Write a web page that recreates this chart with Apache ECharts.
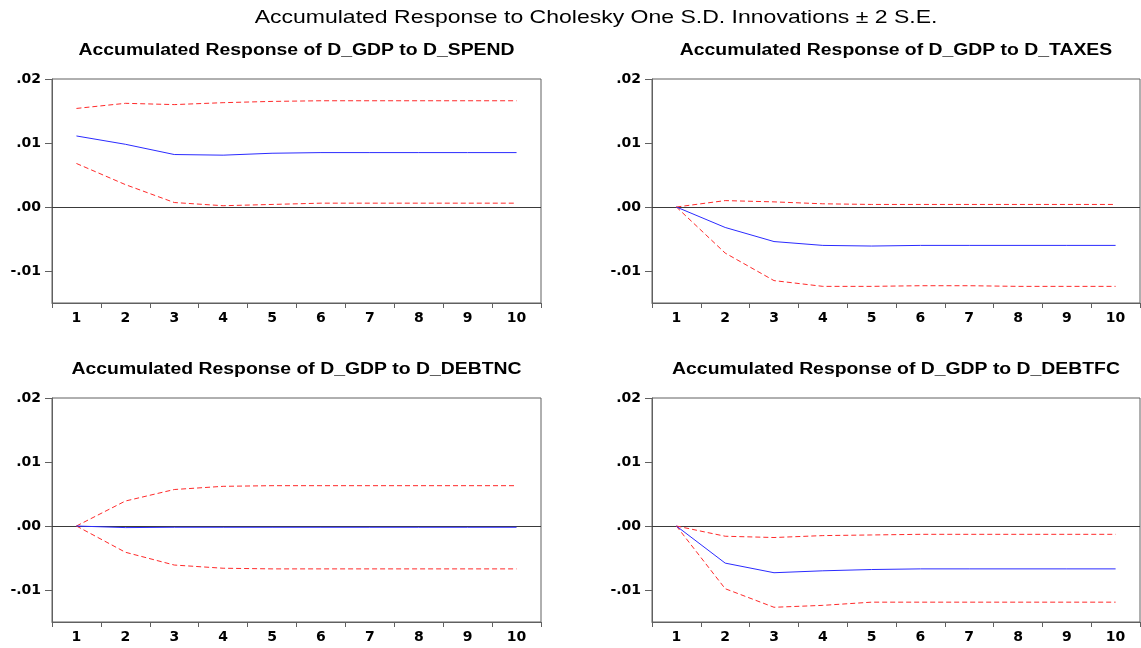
<!DOCTYPE html>
<html>
<head>
<meta charset="utf-8">
<script src="https://cdn.jsdelivr.net/npm/echarts@6/dist/echarts.min.js"></script>
<style>
html,body{margin:0;padding:0;background:#fff;}
#chart{width:1141px;height:648px;}
</style>
</head>
<body>
<div id="chart"></div>
<script>
// ---- data ----
const periods = ['1','2','3','4','5','6','7','8','9','10'];
const yTickValues = [-0.01, 0, 0.01, 0.02];

const mainTitle = 'Accumulated Response to Cholesky One S.D. Innovations \u00B1 2 S.E.';
const panelTitles = [
  'Accumulated Response of D_GDP to D_SPEND',
  'Accumulated Response of D_GDP to D_TAXES',
  'Accumulated Response of D_GDP to D_DEBTNC',
  'Accumulated Response of D_GDP to D_DEBTFC'
];

const spendResp  = [0.0111, 0.0098, 0.0082, 0.0081, 0.0084, 0.0085, 0.0085, 0.0085, 0.0085, 0.0085];
const spendUpper = [0.0154, 0.0162, 0.0160, 0.0163, 0.0165, 0.0166, 0.0166, 0.0166, 0.0166, 0.0166];
const spendLower = [0.0068, 0.0035, 0.0007, 0.0002, 0.0004, 0.0006, 0.0006, 0.0006, 0.0006, 0.0006];

const taxesResp  = [0, -0.0032, -0.0054, -0.0060, -0.0061, -0.0060, -0.0060, -0.0060, -0.0060, -0.0060];
const taxesUpper = [0, 0.0010, 0.0008, 0.0005, 0.0004, 0.0004, 0.0004, 0.0004, 0.0004, 0.0004];
const taxesLower = [0, -0.0072, -0.0115, -0.0124, -0.0124, -0.0123, -0.0123, -0.0124, -0.0124, -0.0124];

const debtncResp  = [0, -0.00025, -0.0002, -0.0002, -0.0002, -0.0002, -0.0002, -0.0002, -0.0002, -0.0002];
const debtncUpper = [0, 0.0039, 0.0057, 0.0062, 0.0063, 0.0063, 0.0063, 0.0063, 0.0063, 0.0063];
const debtncLower = [0, -0.0041, -0.0061, -0.0066, -0.0067, -0.0067, -0.0067, -0.0067, -0.0067, -0.0067];

const debtfcResp  = [0, -0.0058, -0.0073, -0.0070, -0.0068, -0.0067, -0.0067, -0.0067, -0.0067, -0.0067];
const debtfcUpper = [0, -0.0016, -0.0018, -0.0015, -0.0014, -0.0013, -0.0013, -0.0013, -0.0013, -0.0013];
const debtfcLower = [0, -0.0098, -0.0127, -0.0124, -0.0119, -0.0119, -0.0119, -0.0119, -0.0119, -0.0119];

const panels = [
  {resp: spendResp,  upper: spendUpper,  lower: spendLower},
  {resp: taxesResp,  upper: taxesUpper,  lower: taxesLower},
  {resp: debtncResp, upper: debtncUpper, lower: debtncLower},
  {resp: debtfcResp, upper: debtfcUpper, lower: debtfcLower}
];

// ---- layout ----
const grids = [
  {left: 52,  top: 79,  width: 489, height: 224},
  {left: 652, top: 79,  width: 488, height: 224},
  {left: 52,  top: 398, width: 489, height: 224},
  {left: 652, top: 398, width: 488, height: 224}
];
const titleY = [51, 51, 370, 370];

const frameColor = '#606060';
const tickFont = 'DejaVu Sans';
const titleFamily = 'Liberation Sans';

function measure(text, font) {
  const ctx = document.createElement('canvas').getContext('2d');
  ctx.font = font;
  return ctx.measureText(text).width;
}
const panelFontSize = 16;
const stretch = 436 / measure(panelTitles[0], 'bold ' + panelFontSize + 'px "' + titleFamily + '"');
const mainFontSize = 19;

function fmt(v) {
  const a = Math.abs(v).toFixed(2).replace(/^0/, '');
  return (v < -1e-12 ? '-' : '') + a;
}

const graphic = [];
graphic.push({
  type: 'text', x: 596, y: 18, scaleX: stretch, silent: true,
  style: {text: mainTitle, fontSize: mainFontSize, fontFamily: titleFamily, fontWeight: 'normal',
          fill: '#000', align: 'center', verticalAlign: 'middle'}
});
grids.forEach((g, i) => {
  graphic.push({
    type: 'text', x: g.left + g.width / 2, y: titleY[i], scaleX: stretch, silent: true,
    style: {text: panelTitles[i], fontSize: panelFontSize, fontFamily: titleFamily, fontWeight: 'bold',
            fill: '#000', align: 'center', verticalAlign: 'middle'}
  });
});

const xAxes = [], yAxes = [], series = [];
grids.forEach((g, i) => {
  xAxes.push({
    type: 'category', gridIndex: i, data: periods, boundaryGap: true,
    axisLine: {onZero: false, lineStyle: {color: frameColor, width: 1}},
    axisTick: {show: true, length: 5, lineStyle: {color: frameColor}},
    axisLabel: {color: '#000', fontFamily: tickFont, fontWeight: 'bold', fontSize: 14, margin: 8},
    splitLine: {show: false}
  });
  yAxes.push({
    type: 'value', gridIndex: i, min: -0.015, max: 0.02,
    axisLine: {show: true, lineStyle: {color: frameColor, width: 1}},
    axisTick: {show: true, length: 7, customValues: yTickValues, lineStyle: {color: frameColor}},
    axisLabel: {customValues: yTickValues, formatter: fmt, color: '#000', fontFamily: tickFont,
                fontWeight: 'bold', fontSize: 14, margin: 11},
    splitLine: {show: false}
  });
  const p = panels[i];
  series.push({
    type: 'line', xAxisIndex: i, yAxisIndex: i, data: p.upper, symbol: 'none', silent: true,
    lineStyle: {color: '#ff2a2a', width: 1, type: [5, 3]},
    markLine: {silent: true, symbol: 'none', label: {show: false}, z: 1,
               lineStyle: {color: '#3a3a3a', type: 'solid', width: 1}, data: [{yAxis: 0}]},
    z: 3
  });
  series.push({
    type: 'line', xAxisIndex: i, yAxisIndex: i, data: p.lower, symbol: 'none', silent: true,
    lineStyle: {color: '#ff2a2a', width: 1, type: [5, 3]}, z: 3
  });
  series.push({
    type: 'line', xAxisIndex: i, yAxisIndex: i, data: p.resp, symbol: 'none', silent: true,
    lineStyle: {color: '#2b2bff', width: 1, type: 'solid'}, z: 5
  });
});

const chart = echarts.init(document.getElementById('chart'), null, {renderer: 'canvas'});
chart.setOption({
  backgroundColor: '#fff',
  animation: false,
  grid: grids.map(g => Object.assign({show: true, borderColor: frameColor, borderWidth: 1,
                                      backgroundColor: 'transparent'}, g)),
  xAxis: xAxes,
  yAxis: yAxes,
  series: series,
  graphic: graphic
});
</script>
</body>
</html>
